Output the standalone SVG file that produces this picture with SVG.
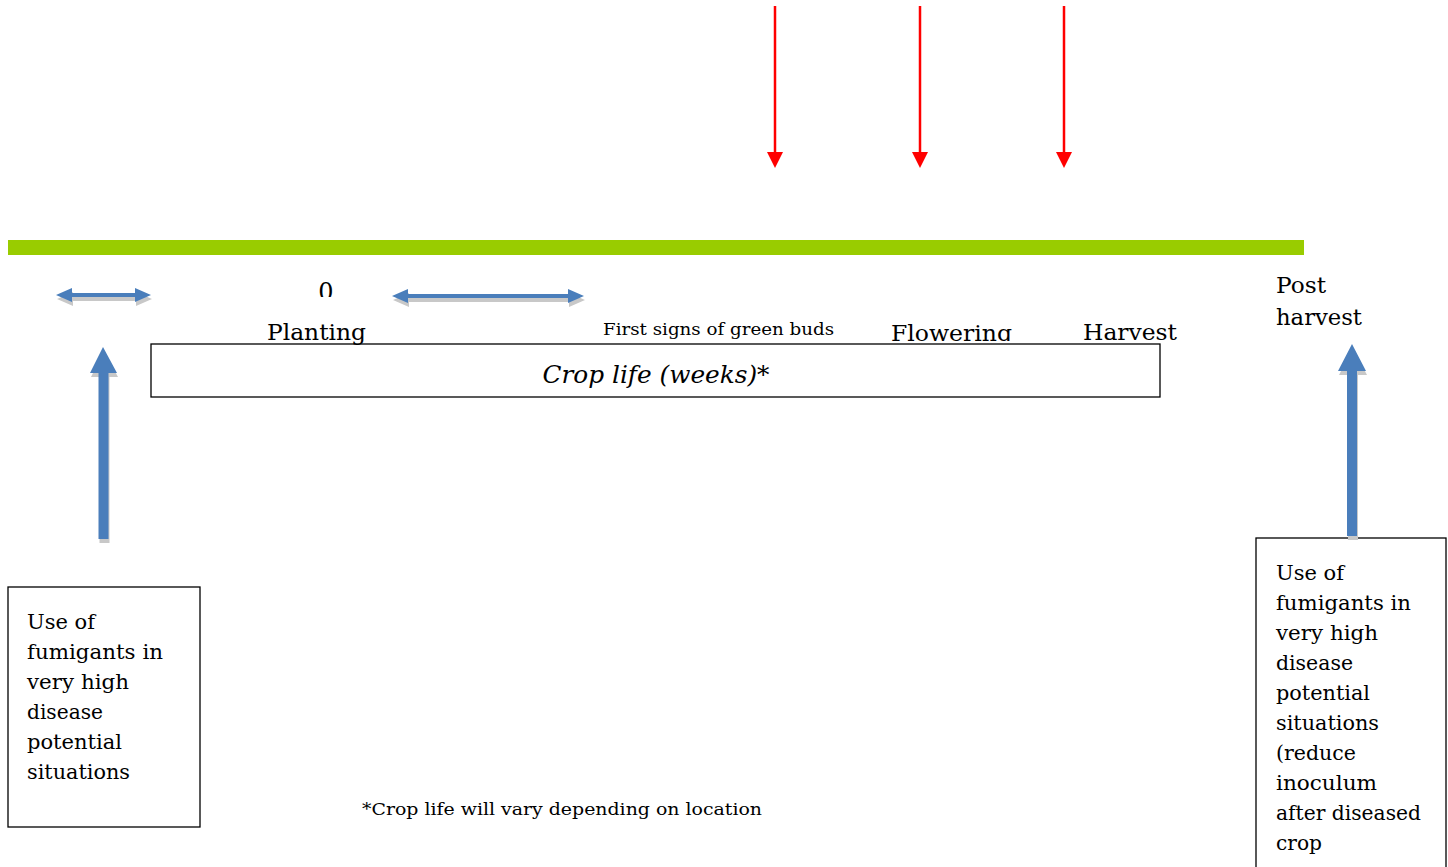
<svg xmlns="http://www.w3.org/2000/svg" width="1448" height="867" viewBox="0 0 1448 867">
<style>
  .t { font-family: "DejaVu Serif", "Liberation Serif", serif; fill: #000; }
  .lbl { font-size: 22px; }
  .small { font-size: 17px; }
  .box { font-size: 20.5px; }
  .frame { fill: #fff; stroke: #000; stroke-width: 1.3; }
  .blue { fill: #4a7ebb; }
  .shadow { fill: #c8c8c8; }
  .red { stroke: #ff0000; stroke-width: 2.5; fill: none; }
</style>
<defs>
  <marker id="redHead" viewBox="0 0 16 16" refX="0" refY="8" markerWidth="16" markerHeight="16" markerUnits="userSpaceOnUse" orient="auto">
    <path d="M0,0 L16,8 L0,16 z" fill="#ff0000"/>
  </marker>
  <clipPath id="clipZero"><rect x="300" y="260" width="60" height="37"/></clipPath>
  <clipPath id="clipFlower"><rect x="880" y="300" width="150" height="41"/></clipPath>
</defs>
<rect width="1448" height="867" fill="#fff"/>

<g id="timeline-bar">
  <rect x="8" y="240" width="1296" height="15" fill="#99cc00"/>
</g>

<g id="crop-life-box">
  <rect class="frame" x="151" y="344" width="1009" height="53"/>
  <text class="t" x="656" y="383" font-size="25" font-style="italic" text-anchor="middle" textLength="227" lengthAdjust="spacingAndGlyphs">Crop life (weeks)*</text>
</g>

<g id="label-zero">
  <text class="t" x="326" y="300" font-size="24" text-anchor="middle" clip-path="url(#clipZero)">0</text>
</g>
<g id="label-planting">
  <text class="t lbl" x="267" y="340" textLength="99" lengthAdjust="spacingAndGlyphs">Planting</text>
</g>
<g id="label-buds">
  <text class="t small" x="603" y="335" textLength="231" lengthAdjust="spacingAndGlyphs">First signs of green buds</text>
</g>
<g id="label-flowering">
  <text class="t lbl" x="891" y="341" textLength="121" lengthAdjust="spacingAndGlyphs" clip-path="url(#clipFlower)">Flowering</text>
</g>
<g id="label-harvest">
  <text class="t lbl" x="1083" y="340" textLength="94" lengthAdjust="spacingAndGlyphs">Harvest</text>
</g>
<g id="label-post-harvest">
  <text class="t lbl" x="1276" y="293" textLength="50" lengthAdjust="spacingAndGlyphs">Post</text>
  <text class="t lbl" x="1276" y="325" textLength="86" lengthAdjust="spacingAndGlyphs">harvest</text>
</g>

<g id="left-note">
  <rect class="frame" x="8" y="587" width="192" height="240"/>
  <text class="t box" x="27" y="629" textLength="68" lengthAdjust="spacingAndGlyphs">Use of</text>
  <text class="t box" x="27" y="659" textLength="136" lengthAdjust="spacingAndGlyphs">fumigants in</text>
  <text class="t box" x="27" y="689" textLength="102" lengthAdjust="spacingAndGlyphs">very high</text>
  <text class="t box" x="27" y="719" textLength="76" lengthAdjust="spacingAndGlyphs">disease</text>
  <text class="t box" x="27" y="749" textLength="95" lengthAdjust="spacingAndGlyphs">potential</text>
  <text class="t box" x="27" y="779" textLength="103" lengthAdjust="spacingAndGlyphs">situations</text>
</g>

<g id="right-note">
  <rect class="frame" x="1256" y="538" width="190" height="340"/>
  <text class="t box" x="1276" y="580" textLength="68" lengthAdjust="spacingAndGlyphs">Use of</text>
  <text class="t box" x="1276" y="610" textLength="135" lengthAdjust="spacingAndGlyphs">fumigants in</text>
  <text class="t box" x="1276" y="640" textLength="102" lengthAdjust="spacingAndGlyphs">very high</text>
  <text class="t box" x="1276" y="670" textLength="77" lengthAdjust="spacingAndGlyphs">disease</text>
  <text class="t box" x="1276" y="700" textLength="94" lengthAdjust="spacingAndGlyphs">potential</text>
  <text class="t box" x="1276" y="730" textLength="103" lengthAdjust="spacingAndGlyphs">situations</text>
  <text class="t box" x="1276" y="760" textLength="80" lengthAdjust="spacingAndGlyphs">(reduce</text>
  <text class="t box" x="1276" y="790" textLength="101" lengthAdjust="spacingAndGlyphs">inoculum</text>
  <text class="t box" x="1276" y="820" textLength="145" lengthAdjust="spacingAndGlyphs">after diseased</text>
  <text class="t box" x="1276" y="850" textLength="46" lengthAdjust="spacingAndGlyphs">crop</text>
</g>

<g id="footnote">
  <text class="t small" x="362" y="815" textLength="400" lengthAdjust="spacingAndGlyphs">*Crop life will vary depending on location</text>
</g>

<g id="connectors">
  <line class="red" x1="775" y1="6" x2="775" y2="152" marker-end="url(#redHead)"/>
  <line class="red" x1="920" y1="6" x2="920" y2="152" marker-end="url(#redHead)"/>
  <line class="red" x1="1064" y1="6" x2="1064" y2="152" marker-end="url(#redHead)"/>

  <polygon class="shadow" points="57,299 73,292 73,297 136,297 136,292 152,299 136,306 136,301 73,301 73,306"/>
  <polygon class="blue" points="56,295 72,288 72,293 135,293 135,288 151,295 135,302 135,297 72,297 72,302"/>

  <polygon class="shadow" points="393,300 409,293 409,298 569,298 569,293 585,300 569,307 569,302 409,302 409,307"/>
  <polygon class="blue" points="392,296 408,289 408,294 568,294 568,289 584,296 568,303 568,298 408,298 408,303"/>

  <polygon class="shadow" points="104,351 118,377 109.5,377 109.5,543 99.5,543 99.5,377 91,377"/>
  <polygon class="blue" points="103,347 117,373 108.5,373 108.5,539 98.5,539 98.5,373 90,373"/>

  <polygon class="shadow" points="1353,348 1367,375 1358,375 1358,540 1348,540 1348,375 1339,375"/>
  <polygon class="blue" points="1352,344 1366,371 1357,371 1357,536 1347,536 1347,371 1338,371"/>
</g>
</svg>
